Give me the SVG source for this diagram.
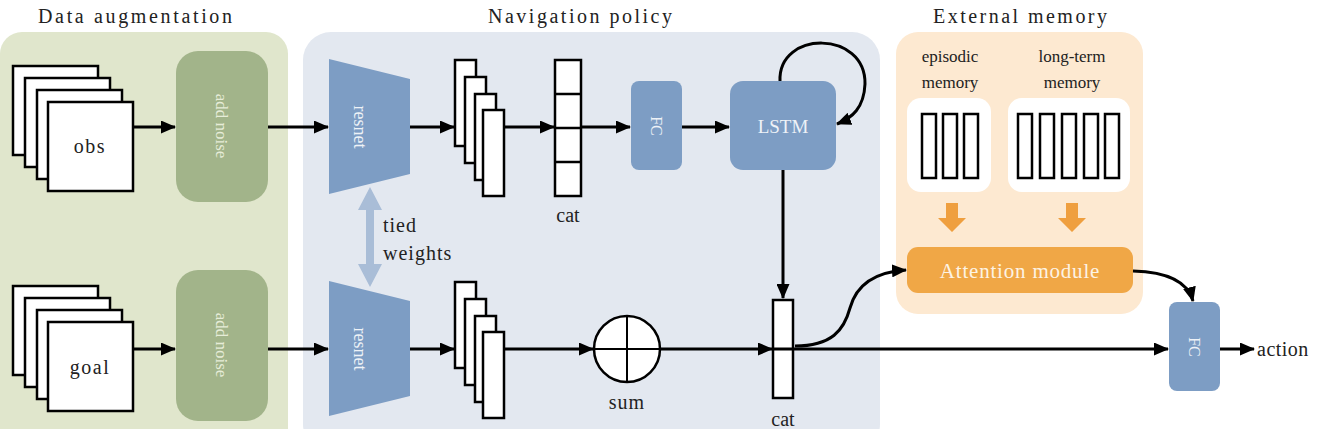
<svg xmlns="http://www.w3.org/2000/svg" width="1320" height="429" viewBox="0 0 1320 429" font-family="'Liberation Serif', 'Times New Roman', serif">
<defs>
<marker id="ah" markerUnits="userSpaceOnUse" markerWidth="15" markerHeight="13" refX="14" refY="6.5" orient="auto">
<path d="M0,0 L15,6.5 L0,13 z" fill="#000"/>
</marker>
<style>
text{font-family:"Liberation Serif","Times New Roman",serif;}
.title{font-size:20px;fill:#222;text-anchor:middle;}
.lbl{font-size:20px;fill:#222;text-anchor:middle;}
.sm{font-size:17px;fill:#222;text-anchor:middle;}
.box{fill:#fff;stroke:#000;stroke-width:2.5;}
.blue{fill:#7d9dc4;}
.green{fill:#a2b48a;}
.wt{fill:#eef2f7;text-anchor:middle;}
.gt{fill:#e6ecd8;text-anchor:middle;font-size:17px;}
.conn{fill:none;stroke:#000;stroke-width:3;}
.arr{marker-end:url(#ah);}
.oarr{fill:#ef9f3f;}
</style>
</defs>

<g id="panels">
<rect x="0" y="32" width="288" height="420" rx="22" fill="#e0e6cc"/>
<rect x="303" y="32" width="577" height="420" rx="28" fill="#e3e8f0"/>
<rect x="896" y="32" width="247" height="282" rx="22" fill="#fde9d1"/>
<text class="title" x="135" y="23" textLength="194" lengthAdjust="spacing">Data augmentation</text>
<text class="title" x="580" y="23" textLength="184" lengthAdjust="spacing">Navigation policy</text>
<text class="title" x="1020" y="23" textLength="174" lengthAdjust="spacing">External memory</text>
</g>

<g id="obs">
<rect class="box" x="13" y="66" width="85" height="89"/>
<rect class="box" x="25" y="78" width="85" height="89"/>
<rect class="box" x="37" y="90" width="85" height="89"/>
<rect class="box" x="48" y="102" width="85" height="89"/>
<text class="lbl" x="90" y="153" font-size="22" letter-spacing="1.5">obs</text>
</g>
<g id="goal">
<rect class="box" x="13" y="286" width="85" height="89"/>
<rect class="box" x="25" y="298" width="85" height="89"/>
<rect class="box" x="37" y="310" width="85" height="89"/>
<rect class="box" x="48" y="322" width="85" height="89"/>
<text class="lbl" x="90" y="374" font-size="22" letter-spacing="1.5">goal</text>
</g>

<g id="addnoise1">
<rect class="green" x="176" y="51" width="92" height="151" rx="22"/>
<text class="gt" x="222" y="132" transform="rotate(90 222 126)">add noise</text>
</g>
<g id="addnoise2">
<rect class="green" x="176" y="270" width="92" height="151" rx="22"/>
<text class="gt" x="222" y="351" transform="rotate(90 222 345)">add noise</text>
</g>

<g id="resnet1">
<polygon class="blue" points="329,59 410,79 410,174 329,194"/>
<text class="wt" x="360" y="133" font-size="18" transform="rotate(90 360 127)">resnet</text>
</g>
<g id="resnet2">
<polygon class="blue" points="329,281 410,301 410,396 329,416"/>
<text class="wt" x="360" y="355" font-size="18" transform="rotate(90 360 349)">resnet</text>
</g>

<g id="tied">
<polygon fill="#a9bdd7" points="370,187 382,210 374,210 374,264 382,264 370,287 358,264 366,264 366,210 358,210"/>
<text class="lbl" x="383" y="232" style="text-anchor:start" letter-spacing="1">tied</text>
<text class="lbl" x="383" y="260" style="text-anchor:start" letter-spacing="1">weights</text>
</g>

<g id="feat1">
<rect class="box" x="455" y="60" width="21" height="86"/>
<rect class="box" x="465" y="77" width="21" height="86"/>
<rect class="box" x="475" y="94" width="21" height="86"/>
<rect class="box" x="483" y="110" width="21" height="86"/>
</g>
<g id="feat2">
<rect class="box" x="455" y="282" width="21" height="86"/>
<rect class="box" x="465" y="299" width="21" height="86"/>
<rect class="box" x="475" y="316" width="21" height="86"/>
<rect class="box" x="483" y="332" width="21" height="86"/>
</g>

<g id="cat1">
<rect class="box" x="555" y="60" width="26" height="136"/>
<path d="M555,94 H581 M555,128 H581 M555,162 H581" stroke="#000" stroke-width="2.5"/>
<text class="lbl" x="568" y="222">cat</text>
</g>

<g id="fc1">
<rect class="blue" x="631" y="81" width="51" height="89" rx="8"/>
<text class="wt" x="656" y="131" font-size="16" transform="rotate(90 656 126)">FC</text>
</g>

<g id="lstm">
<rect class="blue" x="730" y="81" width="106" height="89" rx="13"/>
<text class="wt" x="783" y="133" font-size="19">LSTM</text>
</g>

<g id="sum">
<circle cx="627" cy="349" r="33" fill="#fff" stroke="#000" stroke-width="2.5"/>
<path d="M594,349 H660 M627,316 V382" stroke="#000" stroke-width="2"/>
<text class="lbl" x="627" y="409" letter-spacing="1">sum</text>
</g>

<g id="cat2">
<rect class="box" x="773" y="300" width="20" height="98"/>
<text class="lbl" x="783" y="426">cat</text>
</g>

<g id="memory">
<text class="sm" x="950" y="62">episodic</text>
<text class="sm" x="950" y="88">memory</text>
<text class="sm" x="1072" y="62">long-term</text>
<text class="sm" x="1072" y="88">memory</text>
<rect x="907" y="98" width="84" height="94" rx="14" fill="#fff"/>
<rect x="1008" y="98" width="122" height="94" rx="14" fill="#fff"/>
<rect class="box" x="922" y="114" width="14" height="64"/>
<rect class="box" x="943" y="114" width="14" height="64"/>
<rect class="box" x="964" y="114" width="14" height="64"/>
<rect class="box" x="1018" y="114" width="14" height="64"/>
<rect class="box" x="1040" y="114" width="14" height="64"/>
<rect class="box" x="1062" y="114" width="14" height="64"/>
<rect class="box" x="1084" y="114" width="14" height="64"/>
<rect class="box" x="1105" y="114" width="14" height="64"/>
<polygon class="oarr" points="946,203 958,203 958,218 966,218 952,232 938,218 946,218"/>
<polygon class="oarr" points="1066,203 1078,203 1078,218 1086,218 1072,232 1058,218 1066,218"/>
</g>

<g id="attention">
<rect x="907" y="247" width="226" height="46" rx="11" fill="#f0a746"/>
<text x="1020" y="278" font-size="21" fill="#fdf3e4" text-anchor="middle" letter-spacing="0.8">Attention module</text>
</g>

<g id="fc2">
<rect class="blue" x="1169" y="302" width="51" height="89" rx="8"/>
<text class="wt" x="1194" y="352" font-size="16" transform="rotate(90 1194 347)">FC</text>
</g>

<g id="action">
<text class="lbl" x="1257" y="356" style="text-anchor:start" letter-spacing="0.5">action</text>
</g>

<g id="connectors">
<path class="conn arr" d="M133,127 H175"/>
<path class="conn arr" d="M133,349 H175"/>
<path class="conn arr" d="M268,127 H328"/>
<path class="conn arr" d="M268,349 H328"/>
<path class="conn arr" d="M410,127 H454"/>
<path class="conn arr" d="M410,349 H454"/>
<path class="conn arr" d="M504,127 H554"/>
<path class="conn" d="M581,127 H600"/>
<path class="conn arr" d="M600,127 H630"/>
<path class="conn arr" d="M682,127 H729"/>
<path class="conn arr" d="M783,170 V298"/>
<path class="conn arr" d="M780,81 C778,30 866,30 865,84 C864,108 852,118 837,124"/>
<path class="conn arr" d="M504,349 H593"/>
<path class="conn arr" d="M660,349 H772"/>
<path class="conn" d="M773,349 H793" stroke-width="2.5"/>
<path class="conn arr" d="M793,349 H1168"/>
<path class="conn arr" d="M795,346 C832,346 844,330 850,308 C856,286 874,272 906,270"/>
<path class="conn arr" d="M1133,271 C1168,272 1188,282 1193,301"/>
<path class="conn arr" d="M1220,349 H1254"/>
</g>
</svg>
